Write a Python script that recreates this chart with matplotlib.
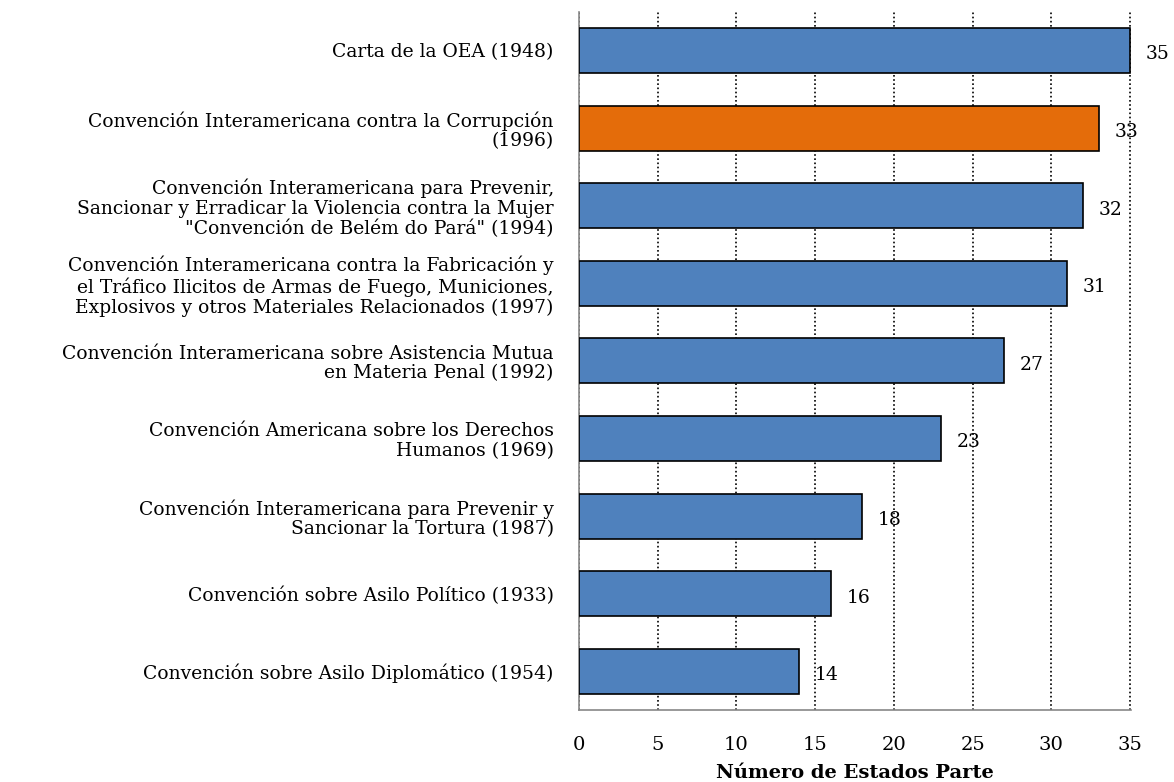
import numpy as np
import matplotlib.pyplot as plt

plt.rcParams['font.family'] = ['DejaVu Serif']

labels = [
    "Carta de la OEA (1948)",
    "Convención Interamericana contra la Corrupción\n(1996)",
    "Convención Interamericana para Prevenir,\nSancionar y Erradicar la Violencia contra la Mujer\n\"Convención de Belém do Pará\" (1994)",
    "Convención Interamericana contra la Fabricación y\nel Tráfico Ilicitos de Armas de Fuego, Municiones,\nExplosivos y otros Materiales Relacionados (1997)",
    "Convención Interamericana sobre Asistencia Mutua\nen Materia Penal (1992)",
    "Convención Americana sobre los Derechos\nHumanos (1969)",
    "Convención Interamericana para Prevenir y\nSancionar la Tortura (1987)",
    "Convención sobre Asilo Político (1933)",
    "Convención sobre Asilo Diplomático (1954)",
]
values = [35, 33, 32, 31, 27, 23, 18, 16, 14]
highlight = 1

fig = plt.figure(figsize=(11.74, 7.82), dpi=100)
ax = fig.add_axes([0.493, 0.092, 0.470, 0.893])

y = np.arange(len(values))
colors = ['#4F81BD'] * len(values)
colors[highlight] = '#E46C0A'
ax.barh(y, values, height=0.58, color=colors, edgecolor='black', linewidth=1.2, zorder=3)

for yi, v in zip(y, values):
    ax.text(v + 1.0, yi + 0.05, str(v), va='center', ha='left', fontsize=13.5)

ax.set_ylim(len(values) - 0.5, -0.5)
ax.set_xlim(0, 35.03)
ax.set_xticks(np.arange(0, 36, 5))
ax.set_yticks(y)
ax.set_yticklabels(labels, fontsize=13.5, linespacing=1.12)
ax.tick_params(axis='y', length=0, pad=18)
ax.tick_params(axis='x', length=0, pad=19, labelsize=14)

ax.xaxis.grid(True, linestyle=(0, (1, 1.5)), color='black', linewidth=1.2, zorder=0)
for s in ['top', 'right']:
    ax.spines[s].set_visible(False)
for s in ['left', 'bottom']:
    ax.spines[s].set_color('#888888')
    ax.spines[s].set_linewidth(1.2)

ax.set_xlabel("Número de Estados Parte", fontsize=14, fontweight='bold', labelpad=7)

fig.savefig('out.png', dpi=100)
